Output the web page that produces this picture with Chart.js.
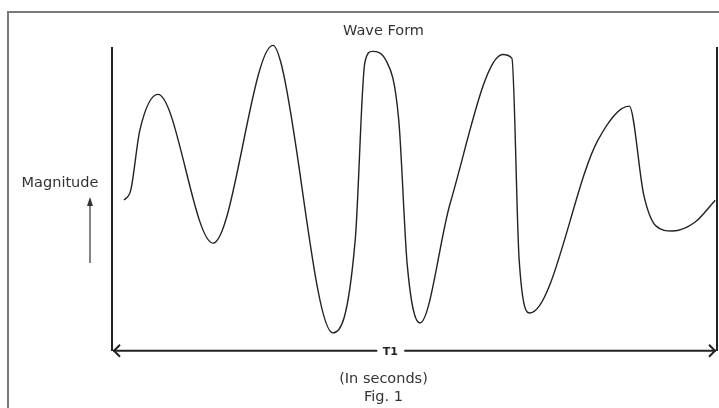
<!DOCTYPE html>
<html>
<head>
<meta charset="utf-8">
<title>Wave Form</title>
<script src="https://cdn.jsdelivr.net/npm/chart.js@4.4.1/dist/chart.umd.min.js"></script>
<style>
    body { margin: 0; background: #fff; }
    #caja { width: 719px; height: 408px; }
</style>
</head>
<body>
<div id="caja"><canvas id="myChart"></canvas></div>
<script>
// ---------------- DATOS ----------------
// tiempo (0..100 = T1) y magnitud (0..100)
var tiempo = [2.0, 3.1, 4.6, 7.6, 16.7, 26.6, 27.9, 36.5, 40.2, 41.8,
    43.0, 45.3, 47.4, 48.8, 50.9, 55.9, 64.6, 66.1, 67.3, 69.1,
    80.3, 85.5, 87.9, 89.9, 92.6, 96.4, 99.7];
var magnitud = [49.8, 53.1, 72.9, 84.8, 35.6, 101.0, 95.4, 5.9, 36.6, 95.4,
    99.0, 96.0, 76.2, 28.4, 9.2, 48.8, 98.0, 96.7, 30.0, 12.5,
    69.6, 80.9, 51.5, 41.3, 39.6, 42.6, 49.8];

var titulo = 'Wave Form';
var ejeY = 'Magnitude';
var ejeX = ['(In seconds)', 'Fig. 1'];
var periodo = 'T1';
var periodoEn = 46; // donde va la etiqueta T1 sobre el eje de tiempo

var puntos = tiempo.map((t, i) => ({ x: t, y: magnitud[i] }));

const fuente = 'DejaVu Sans, Liberation Sans, sans-serif';
const tinta = '#222';

// marco gris, flecha de magnitud y flecha T1
const dibujos = {
    id: 'dibujos',
    beforeDraw(chart) {
        const ctx = chart.ctx;
        ctx.save();
        ctx.fillStyle = '#fff';
        ctx.fillRect(0, 0, chart.width, chart.height);
        ctx.strokeStyle = '#7a7a7a';
        ctx.lineWidth = 2;
        ctx.beginPath();
        ctx.moveTo(8, chart.height);
        ctx.lineTo(8, 12);
        ctx.lineTo(chart.width, 12);
        ctx.stroke();
        ctx.restore();
    },
    afterDraw(chart) {
        const ctx = chart.ctx;
        const area = chart.chartArea;
        const x = chart.scales.x;
        ctx.save();

        // etiqueta Magnitude con su flecha
        ctx.fillStyle = '#333';
        ctx.font = '14.5px ' + fuente;
        ctx.textAlign = 'center';
        ctx.textBaseline = 'middle';
        ctx.fillText(ejeY, area.left - 52, 183);
        ctx.strokeStyle = '#333';
        ctx.lineWidth = 1.2;
        ctx.beginPath();
        ctx.moveTo(area.left - 22, 263);
        ctx.lineTo(area.left - 22, 205);
        ctx.stroke();
        ctx.beginPath();
        ctx.moveTo(area.left - 22, 197);
        ctx.lineTo(area.left - 25, 206);
        ctx.lineTo(area.left - 19, 206);
        ctx.closePath();
        ctx.fill();

        // flecha doble T1
        var y = area.bottom;
        var cx = x.getPixelForValue(periodoEn);
        ctx.strokeStyle = tinta;
        ctx.lineWidth = 2;
        ctx.beginPath();
        ctx.moveTo(area.left + 1, y);
        ctx.lineTo(cx - 13, y);
        ctx.moveTo(cx + 14, y);
        ctx.lineTo(area.right - 1, y);
        ctx.stroke();
        ctx.beginPath();
        ctx.moveTo(area.left + 8, y - 6);
        ctx.lineTo(area.left + 2, y);
        ctx.lineTo(area.left + 8, y + 6);
        ctx.moveTo(area.right - 8, y - 6);
        ctx.lineTo(area.right - 2, y);
        ctx.lineTo(area.right - 8, y + 6);
        ctx.stroke();
        ctx.fillStyle = tinta;
        ctx.font = 'bold 11px ' + fuente;
        ctx.fillText(periodo, cx, y + 1);
        ctx.restore();
    }
};

const data = {
    datasets: [{
        data: puntos,
        borderColor: tinta,
        borderWidth: 1.4,
        pointRadius: 0,
        fill: false,
        cubicInterpolationMode: 'monotone',
        clip: false
    }]
};

const config = {
    type: 'line',
    data: data,
    options: {
        responsive: true,
        maintainAspectRatio: false,
        animation: false,
        events: [],
        layout: { padding: { left: 50, right: 2, top: 23, bottom: 2 } },
        plugins: {
            legend: { display: false },
            tooltip: { enabled: false },
            title: {
                display: true,
                text: titulo,
                color: '#333',
                font: { family: fuente, size: 14.5, weight: 'normal', lineHeight: 1.2 },
                padding: { top: 0, bottom: 8 }
            },
            subtitle: {
                display: true,
                position: 'bottom',
                text: ejeX,
                color: '#333',
                font: { family: fuente, size: 14.5, weight: 'normal', lineHeight: 1.25 },
                padding: { top: 19, bottom: 0 }
            }
        },
        scales: {
            x: { type: 'linear', display: false, min: 0, max: 100 },
            y: {
                min: 0, max: 100,
                ticks: { display: false },
                grid: { display: false },
                border: { display: true, color: tinta, width: 2 },
                afterFit(scale) { scale.width = 62; }
            },
            y2: {
                position: 'right',
                min: 0, max: 100,
                ticks: { display: false },
                grid: { display: false },
                border: { display: true, color: tinta, width: 2 },
                afterFit(scale) { scale.width = 0; }
            }
        }
    },
    plugins: [dibujos]
};

const myChart = new Chart(document.getElementById('myChart'), config);
</script>
</body>
</html>
